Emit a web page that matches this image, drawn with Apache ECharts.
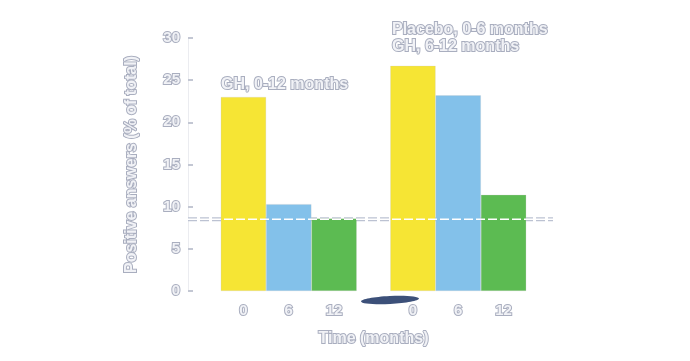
<!DOCTYPE html>
<html>
<head>
<meta charset="utf-8">
<script src="https://cdn.jsdelivr.net/npm/echarts@6/dist/echarts.min.js"></script>
<style>html,body{margin:0;padding:0;background:#fff}#c{width:690px;height:361px}</style>
</head>
<body>
<div id="c"></div>
<script>
const groups = ['GH, 0-12 months', 'Placebo, 0-6 months / GH, 6-12 months'];
const timeLabels = ['0', '6', '12'];
const month0 = [23.0, 26.7];
const month6 = [10.3, 23.2];
const month12 = [8.6, 11.4];
const referenceLevel = 8.5;
const yTicks = [0, 5, 10, 15, 20, 25, 30];

const FONT = '"Liberation Sans", Arial, sans-serif';
const FILL = '#f1f2f6', EDGE = '#a9aebf';
const txt = (size) => ({
  color: FILL, fontFamily: FONT, fontWeight: 'bold', fontSize: size,
  textBorderColor: EDGE, textBorderWidth: 2
});
const gtxt = (s) => ({text: s, fill: FILL, stroke: EDGE, lineWidth: 2, font: 'bold 16px ' + FONT});
const colors = ['#f6e534', '#83c1ea', '#5cbb52'];
const values = [month0, month6, month12];

const chart = echarts.init(document.getElementById('c'), null, {renderer: 'canvas'});
const barSeries = values.map((v, i) => ({
  type: 'bar', xAxisIndex: 0, yAxisIndex: 0,
  data: v,
  barGap: '0%', barCategoryGap: '19.8%',
  itemStyle: {color: colors[i], borderColor: 'rgba(200,200,200,0.5)', borderWidth: 0.5},
  label: Object.assign({show: true, position: 'bottom', distance: 12,
    formatter: () => timeLabels[i]}, txt(15)),
  z: 2
}));

chart.setOption({
  animation: false,
  grid: [
    {left: 204, right: 147, top: 38, bottom: 70},
    {left: 188, right: 137, top: 38, bottom: 70}
  ],
  xAxis: [
    {type: 'category', gridIndex: 0, data: groups,
     axisLine: {show: false}, axisTick: {show: false}, axisLabel: {show: false},
     name: 'Time (months)', nameLocation: 'middle', nameGap: 40,
     nameTextStyle: txt(16)},
    {type: 'value', gridIndex: 1, min: 0, max: 1, show: false}
  ],
  yAxis: [
    {type: 'value', gridIndex: 0, min: 0, max: 30, interval: 5, offset: 16,
     axisLine: {show: true, lineStyle: {color: '#ebecf0', width: 1}},
     axisTick: {show: true, inside: true, length: 5, lineStyle: {color: '#c3c7d3', width: 2}},
     axisLabel: Object.assign({margin: 8, formatter: v => yTicks.includes(v) ? String(v) : ''}, txt(15)),
     splitLine: {show: false},
     name: 'Positive answers (% of total)', nameLocation: 'middle', nameGap: 48,
     nameTextStyle: txt(16)},
    {type: 'value', gridIndex: 1, min: 0, max: 30, show: false}
  ],
  series: barSeries.concat([
    {type: 'line', xAxisIndex: 1, yAxisIndex: 1, symbol: 'none', silent: true,
     data: [[0, referenceLevel], [1, referenceLevel]],
     lineStyle: {color: '#bcc2d2', width: 4, type: [9, 3]}, z: 1},
    {type: 'line', xAxisIndex: 1, yAxisIndex: 1, symbol: 'none', silent: true,
     data: [[0, referenceLevel], [1, referenceLevel]],
     lineStyle: {color: '#ffffff', width: 1.6, type: [9, 3]}, z: 3}
  ]),
  graphic: [
    {type: 'text', left: 220, top: 76, style: gtxt('GH, 0-12 months')},
    {type: 'text', left: 391, top: 21, style: gtxt('Placebo, 0-6 months')},
    {type: 'text', left: 391, top: 38, style: gtxt('GH, 6-12 months')},
    {type: 'ellipse', x: 390, y: 300, rotation: 0.05, shape: {cx: 0, cy: 0, rx: 29, ry: 4}, style: {fill: '#3c5079'}, z: 10}
  ]
});
</script>
</body>
</html>
